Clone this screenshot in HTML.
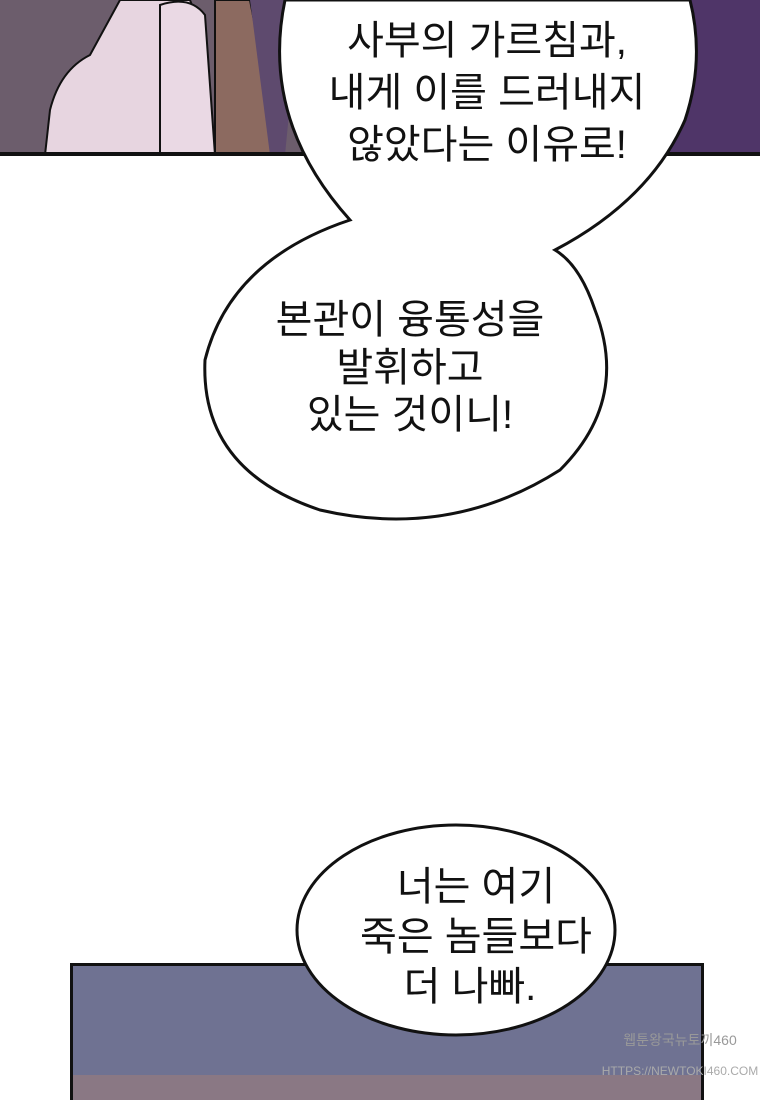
<!DOCTYPE html>
<html><head><meta charset="utf-8"><style>
body{margin:0;width:760px;height:1100px;overflow:hidden;background:#fff}
svg{display:block}
text{font-family:"Liberation Sans","Noto Sans CJK KR","NanumGothic",sans-serif;font-size:40px;fill:#111;text-anchor:middle}
</style></head><body>
<svg width="760" height="1100" viewBox="0 0 760 1100">
<rect x="0" y="0" width="760" height="155" fill="#6c5d6c"/>
<rect x="560" y="0" width="200" height="155" fill="#4f3568"/>
<path d="M215 0 L250 0 L280 155 L215 155 Z" fill="#8c6a60" stroke="#111" stroke-width="2"/>
<path d="M250 0 L300 0 L285 155 L270 155 Z" fill="#5e4a6e"/>
<path d="M120 0 L190 0 L205 40 L215 155 L45 155 L50 110 Q60 70 90 55 Z" fill="#e7d5e0" stroke="#111" stroke-width="2"/>
<path d="M160 5 Q190 -5 205 15 L215 155 L160 155 Z" fill="#ead9e4" stroke="#111" stroke-width="2"/>
<rect x="0" y="152" width="760" height="4" fill="#111"/>

<path d="M285 0 Q260 120 350 220 Q230 260 205 360 Q200 470 320 510 Q450 540 560 470 Q630 400 595 310 Q580 265 555 250 Q650 200 685 120 Q705 60 690 0 Z" fill="#fff" stroke="#111" stroke-width="3"/>
<text x="487" y="54">사부의 가르침과,</text>
<text x="487" y="106">내게 이를 드러내지</text>
<text x="487" y="158">않았다는 이유로!</text>
<g style="font-size:42px">
<text x="410" y="333">본관이 융통성을</text>
<text x="410" y="381">발휘하고</text>
<text x="410" y="428">있는 것이니!</text>
</g>
<rect x="71.5" y="964.5" width="631" height="140" fill="#6f7292" stroke="#111" stroke-width="3"/>
<rect x="73" y="1075" width="628" height="30" fill="#8a7884"/>
<ellipse cx="456" cy="930" rx="159" ry="105" fill="#fff" stroke="#111" stroke-width="3"/>
<g style="font-size:41px">
<text x="476" y="900">너는 여기</text>
<text x="476" y="950">죽은 놈들보다</text>
<text x="470" y="1000">더 나빠.</text>
</g>
<text x="680" y="1045" style="font-size:14px;fill:#999">웹툰왕국뉴토끼460</text>
<text x="680" y="1075" style="font-size:12px;fill:#aaa">HTTPS://NEWTOKI460.COM</text>
</svg>
</body></html>
